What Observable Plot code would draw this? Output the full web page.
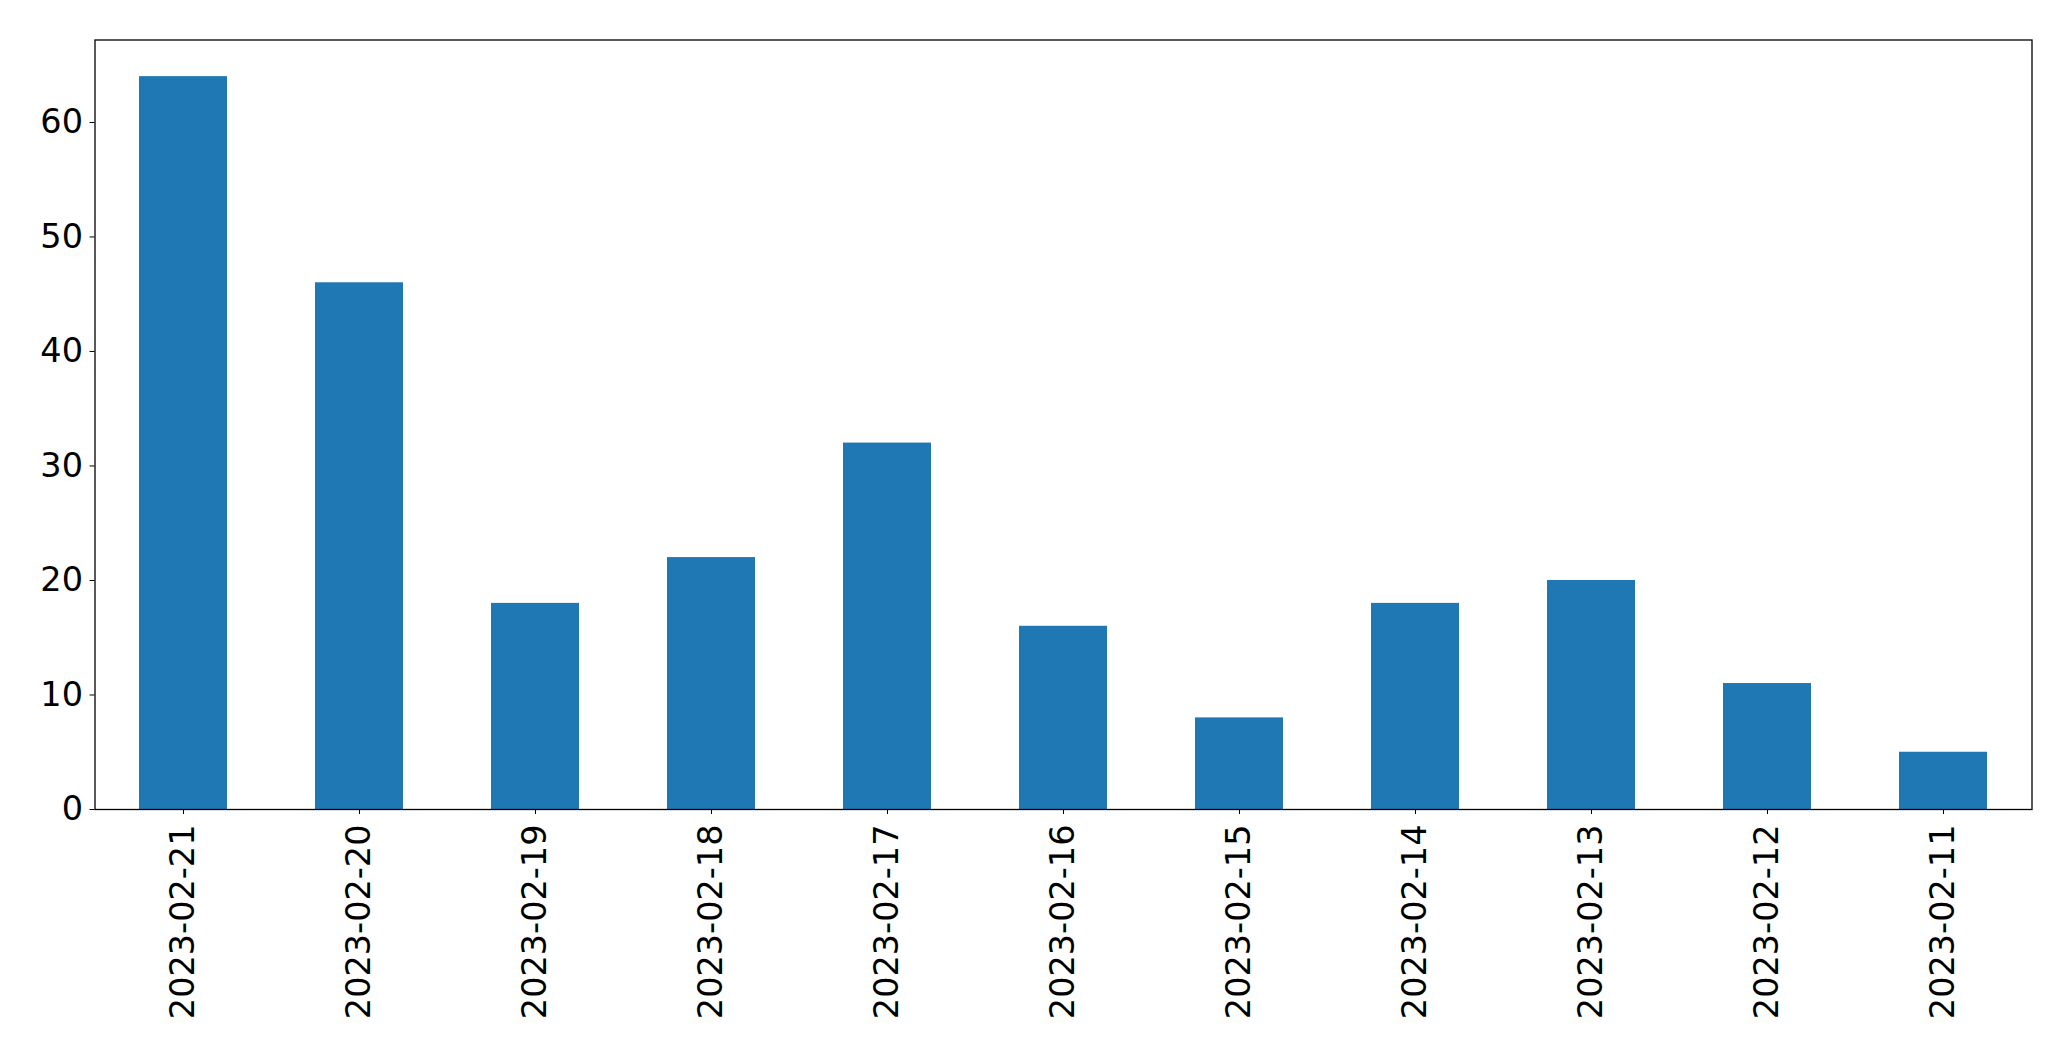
<!DOCTYPE html>
<html>
<head>
<meta charset="utf-8">
<script src="https://cdn.jsdelivr.net/npm/d3@7"></script>
<script src="https://cdn.jsdelivr.net/npm/@observablehq/plot@0.6"></script>
<style>
  html, body { margin: 0; padding: 0; background: #fff; }
  #chart svg { display: block; }
</style>
</head>
<body>
<div id="chart"></div>
<script>
const dates = ["2023-02-21","2023-02-20","2023-02-19","2023-02-18","2023-02-17","2023-02-16","2023-02-15","2023-02-14","2023-02-13","2023-02-12","2023-02-11"];
const counts = [64, 46, 18, 22, 32, 16, 8, 18, 20, 11, 5];
const yTicks = [0, 10, 20, 30, 40, 50, 60];

const data = dates.map((d, i) => ({date: d, count: counts[i]}));

const chart = Plot.plot({
  width: 2071,
  height: 1061,
  marginLeft: 94.5,
  marginRight: 39.5,
  marginTop: 39.5,
  marginBottom: 252,
  style: {fontFamily: "DejaVu Sans", fontSize: "33.5px", color: "#000", background: "#fff"},
  x: {domain: dates, paddingInner: 0.5, paddingOuter: 0.25, label: null},
  y: {domain: [0, 64 * 1.05], label: null},
  marks: [
    Plot.barY(data, {x: "date", y: "count", fill: "#1f77b4"}),
    Plot.axisY({ticks: yTicks, tickSize: 5, tickPadding: 7, label: null, fontSize: 33.5, stroke: "#000"}),
    Plot.axisX({tickSize: 5, tickPadding: 10, tickRotate: -90, label: null, fontSize: 33.5, stroke: "#000"}),
    Plot.frame({stroke: "#000", strokeWidth: 1.3})
  ]
});
document.getElementById("chart").appendChild(chart);
</script>
</body>
</html>
